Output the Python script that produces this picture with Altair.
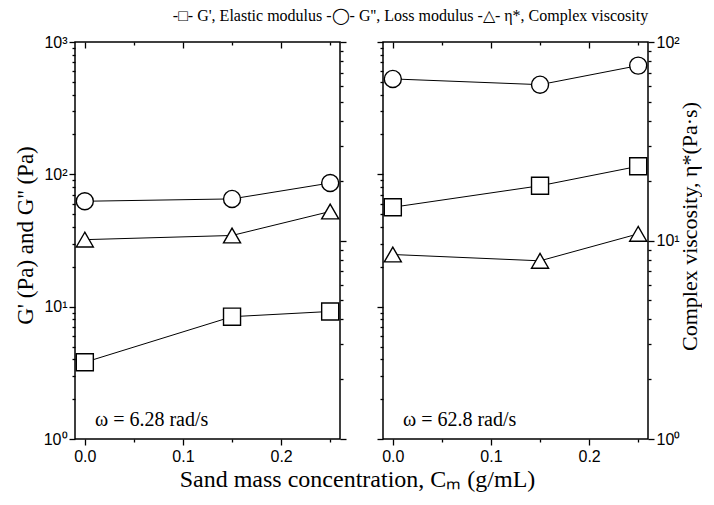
import altair as alt
import pandas as pd

# ---- data ----
conc = [0.0, 0.15, 0.25]
gp_low = [3.8, 8.4, 9.2]        # G' at 6.28 rad/s (Pa)
gpp_low = [62.6, 65.2, 86.0]    # G'' at 6.28 rad/s (Pa)
eta_low = [10.1, 10.6, 14.0]    # eta* at 6.28 rad/s (Pa.s)
gp_high = [56.4, 82.0, 115.0]   # G' at 62.8 rad/s
gpp_high = [526.0, 476.0, 663.0]
eta_high = [8.5, 7.9, 10.8]
omega_labels = ["\u03c9 = 6.28 rad/s", "\u03c9 = 62.8 rad/s"]
series_names = ["G'", "G''", "eta"]

x_ticks = [0.0, 0.05, 0.1, 0.15, 0.2, 0.25]
x_major = [0.0, 0.1, 0.2]
x_minor = [0.05, 0.15, 0.25]
g_ticks = [m * 10 ** k for k in range(3) for m in range(1, 10)] + [1000]
eta_ticks = [m * 10 ** k for k in range(2) for m in range(1, 10)] + [100]

LOGMAJ = "abs(log(datum.value)/LN10 - round(log(datum.value)/LN10)) < 1e-6"
LOGLBL = LOGMAJ + " ? '10' + ['\u2070','\u00b9','\u00b2','\u00b3'][round(log(datum.value)/LN10)] : ''"
XMAJ = "abs(datum.value*10 - round(datum.value*10)) < 1e-6"
XLBL = XMAJ + " ? format(datum.value, '.1f') : ''"

SERIF = "Liberation Serif"
SANS = "Liberation Sans"
W, H = 265, 397


def log_axis(orient, values, labels, title):
    kw = dict(
        orient=orient, values=values, labels=labels, labelExpr=LOGLBL,
        tickSize={"condition": {"test": LOGMAJ, "value": 6}, "value": 3},
        grid=False, domain=False, labelFont=SANS, labelFontSize=16,
        labelPadding=2, titleFont=SERIF, titleFontSize=23,
        titleFontWeight="normal", titleAngle=270, titlePadding=6,
    )
    if orient == "right":
        kw["titleBaseline"] = "top"
        kw["titleY"] = 184
        kw["titlePadding"] = 0
        kw["titleFontSize"] = 22
    else:
        kw["titleY"] = 193
    kw["title"] = title if title else None
    return alt.Axis(**kw)


def panel(gp, gpp, eta, omega, show_left, show_right):
    gdf = pd.DataFrame({"conc": conc * 2, "value": gp + gpp,
                        "series": [series_names[0]] * 3 + [series_names[1]] * 3})
    edf = pd.DataFrame({"conc": conc, "value": eta, "series": [series_names[2]] * 3})
    tdf = pd.DataFrame({"label": [omega]})

    xs = alt.Scale(domain=[-0.01, 0.26], nice=False, zero=False)
    gs = alt.Scale(type="log", domain=[1, 1000], nice=False)
    es = alt.Scale(type="log", domain=[1, 100], nice=False)

    x_bottom = alt.Axis(orient="bottom", values=x_ticks, labelExpr=XLBL,
                        tickSize={"condition": {"test": XMAJ, "value": 6}, "value": 3},
                        grid=False, domain=False, title=None, labelFont=SANS,
                        labelFontSize=16, labelPadding=3)

    g_axis = log_axis("left", g_ticks, show_left,
                      "G' (Pa) and  G'' (Pa)" if show_left else None)
    e_axis = log_axis("right", eta_ticks, show_right,
                      "Complex viscosity, \u03b7*(Pa\u00b7s)" if show_right else None)

    shape_scale = alt.Scale(domain=series_names, range=["square", "circle", "triangle-up"])

    gx = alt.X("conc:Q", scale=xs, axis=x_bottom)
    gy = alt.Y("value:Q", scale=gs, axis=g_axis)
    g_line = alt.Chart(gdf).mark_line(color="black", strokeWidth=1).encode(
        x=gx, y=gy, detail="series:N")
    g_pts = alt.Chart(gdf).mark_point(filled=True, fill="white", stroke="black",
                                      strokeWidth=1.4, size=290, opacity=1).encode(
        x=gx, y=gy, shape=alt.Shape("series:N", scale=shape_scale, legend=None))
    g_txt = alt.Chart(tdf).mark_text(align="left", baseline="alphabetic", font=SERIF,
                                     fontSize=20, color="black").encode(
        x=alt.value(20), y=alt.value(384), text="label:N")
    g_layer = alt.layer(g_line, g_pts, g_txt)

    ex = alt.X("conc:Q", scale=xs, axis=None)
    ey = alt.Y("value:Q", scale=es, axis=e_axis)
    e_line = alt.Chart(edf).mark_line(color="black", strokeWidth=1).encode(x=ex, y=ey)
    e_pts = alt.Chart(edf).mark_point(filled=True, fill="white", stroke="black",
                                      strokeWidth=1.4, size=290, opacity=1).encode(
        x=ex, y=ey, shape=alt.Shape("series:N", scale=shape_scale, legend=None))
    e_layer = alt.layer(e_line, e_pts)

    def top_ticks(vals, size):
        ax = alt.Axis(orient="top", values=vals, labels=False, domain=False, grid=False,
                      title=None, tickSize=alt.ExprRef(expr=str(-size)))
        return alt.Chart(gdf).mark_point(opacity=0).encode(
            x=alt.X("conc:Q", scale=xs, axis=ax),
            y=alt.Y("value:Q", scale=gs, axis=None))

    return alt.layer(g_layer, e_layer, top_ticks(x_major, 6), top_ticks(x_minor, 3)).resolve_scale(
        x="independent", y="independent").properties(width=W, height=H)


left = panel(gp_low, gpp_low, eta_low, omega_labels[0], True, False)
right = panel(gp_high, gpp_high, eta_high, omega_labels[1], False, True)

inner = alt.hconcat(left, right, spacing=27).properties(
    title=alt.TitleParams("Sand mass concentration, C\u2098 (g/mL)", orient="bottom",
                          anchor="middle", font=SERIF, fontSize=24, fontWeight="normal",
                          color="black", offset=3))

chart = alt.vconcat(inner).properties(
    title=alt.TitleParams(
        "-\u25a1- G',  Elastic modulus  -\u25ef- G'', Loss modulus  -\u25b3- \u03b7*, Complex viscosity",
        anchor="middle", font=SERIF, fontSize=16, fontWeight="normal", color="black",
        dx=53, offset=9),
    padding={"left": 5, "top": 0, "right": 0, "bottom": 0},
    background="white",
).configure_view(stroke="black", strokeWidth=1.5).configure_axis(
    tickColor="black", tickWidth=1.3, labelColor="black", titleColor="black",
    labelFontSize=16)

chart.save("out.html", embed_options={"renderer": "svg", "actions": False})
